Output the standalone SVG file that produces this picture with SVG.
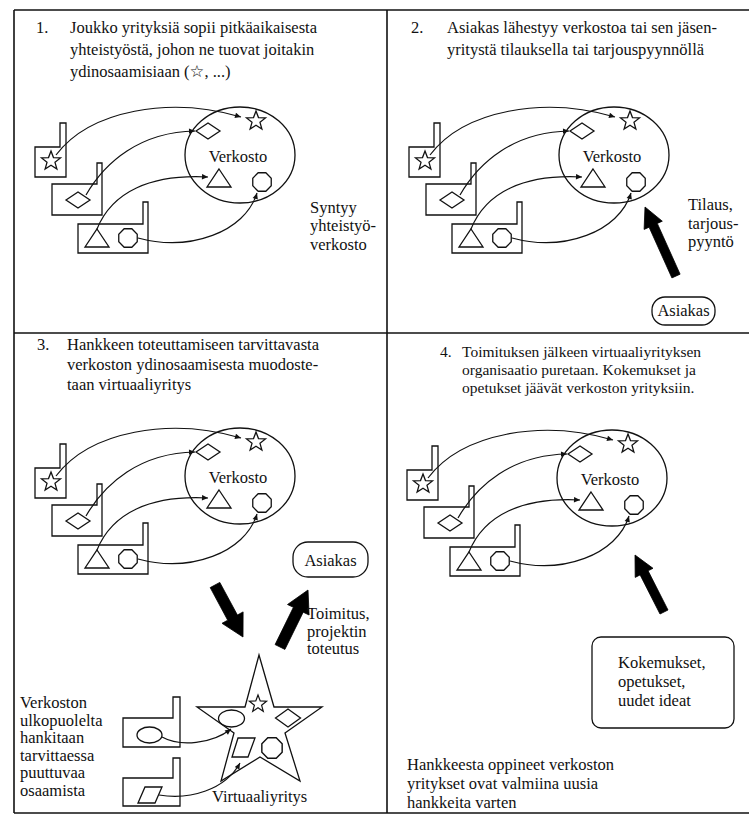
<svg xmlns="http://www.w3.org/2000/svg" xmlns:xlink="http://www.w3.org/1999/xlink" width="749" height="823" viewBox="0 0 749 823">
<style>
.t{font-family:"Liberation Serif","DejaVu Serif",serif;font-size:16.5px;fill:#111}
.h{font-family:"Liberation Serif","DejaVu Sans",serif;font-size:16.5px;fill:#111}
.h4{font-family:"Liberation Serif","DejaVu Serif",serif;font-size:15.5px;fill:#111}
.fr{fill:none;stroke:#111;stroke-width:1.6}
.ln{fill:none;stroke:#111;stroke-width:1.3}
.cv{fill:none;stroke:#111;stroke-width:1.2;marker-end:url(#ah)}
.big{fill:#000;stroke:#000;stroke-width:0.8;stroke-linejoin:round}
</style>
<defs>
<marker id="ah" viewBox="0 0 10 10" refX="10" refY="5" markerWidth="8" markerHeight="6" markerUnits="userSpaceOnUse" orient="auto"><path d="M0,0.5 L10,5 L0,9.5 z" fill="#111"/></marker>
<polygon id="star" class="ln" points="0,-10 2.47,-3.4 9.51,-3.09 3.99,1.3 5.88,8.09 0,4.2 -5.88,8.09 -3.99,1.3 -9.51,-3.09 -2.47,-3.4"/>
<polygon id="oct" class="ln" points="9.24,3.83 3.83,9.24 -3.83,9.24 -9.24,3.83 -9.24,-3.83 -3.83,-9.24 3.83,-9.24 9.24,-3.83"/>
<polygon id="dia" class="ln" points="-12,0 0,-8 12,0 0,8"/>
<polygon id="tri" class="ln" points="0,-9 12,9 -12,9"/>
</defs>

<g id="frame" class="fr">
<line x1="14" y1="10" x2="749" y2="10"/>
<line x1="14" y1="10" x2="14" y2="813"/>
<line x1="14" y1="813" x2="749" y2="813"/>
<line x1="387" y1="10" x2="387" y2="813"/>
<line x1="14" y1="333" x2="749" y2="333"/>
</g>

<!-- Quadrant 1 -->
<g id="q1-heading" class="h">
<text x="36" y="33">1.</text>
<text x="70" y="33">Joukko yrityksiä sopii pitkäaikaisesta</text>
<text x="70" y="55">yhteistyöstä, johon ne tuovat joitakin</text>
<text x="70" y="77">ydinosaamisiaan (☆, ...)</text>
</g>
<g id="q1" transform="translate(0,0)">
<g id="q1-verkosto"><ellipse class="ln" cx="240" cy="155" rx="55" ry="48"/><text class="t" x="238" y="162" text-anchor="middle">Verkosto</text>
<use xlink:href="#star" x="256" y="121"/><use xlink:href="#dia" x="208" y="131"/><use xlink:href="#tri" x="219" y="178"/><use xlink:href="#oct" x="262" y="182"/></g>
<g id="q1-firm1"><path class="ln" d="M35,147 H60 V123 H66 V177 H35 Z"/><use xlink:href="#star" x="51" y="161"/></g>
<g id="q1-firm2"><path class="ln" d="M52,184 H97 V163 H102 V215 H52 Z"/><use xlink:href="#dia" x="78" y="200"/></g>
<g id="q1-firm3"><path class="ln" d="M78,224 H143 V202 H148 V253 H78 Z"/><use xlink:href="#tri" x="97" y="238"/><use xlink:href="#oct" x="128" y="238"/></g>
<g id="q1-connectors">
<path class="cv" d="M56,155 C90,110 170,96 241,117"/>
<path class="cv" d="M86,195 C105,162 140,132 195,131"/>
<path class="cv" d="M97,229 C112,192 150,174 208,177"/>
<path class="cv" d="M138,238 C190,252 245,232 257,193"/>
</g>
</g>
<g id="q1-note" class="t">
<text x="310" y="213">Syntyy</text>
<text x="310" y="231">yhteistyö-</text>
<text x="310" y="250">verkosto</text>
</g>

<!-- Quadrant 2 -->
<g id="q2-heading" class="h">
<text x="411" y="33">2.</text>
<text x="447" y="33">Asiakas lähestyy verkostoa tai sen jäsen-</text>
<text x="447" y="55">yritystä tilauksella tai tarjouspyynnöllä</text>
</g>
<g id="q2" transform="translate(374,0)">
<g id="q2-verkosto"><ellipse class="ln" cx="240" cy="155" rx="55" ry="48"/><text class="t" x="238" y="162" text-anchor="middle">Verkosto</text>
<use xlink:href="#star" x="256" y="121"/><use xlink:href="#dia" x="208" y="131"/><use xlink:href="#tri" x="219" y="178"/><use xlink:href="#oct" x="262" y="182"/></g>
<g id="q2-firm1"><path class="ln" d="M35,147 H60 V123 H66 V177 H35 Z"/><use xlink:href="#star" x="51" y="161"/></g>
<g id="q2-firm2"><path class="ln" d="M52,184 H97 V163 H102 V215 H52 Z"/><use xlink:href="#dia" x="78" y="200"/></g>
<g id="q2-firm3"><path class="ln" d="M78,224 H143 V202 H148 V253 H78 Z"/><use xlink:href="#tri" x="97" y="238"/><use xlink:href="#oct" x="128" y="238"/></g>
<g id="q2-connectors">
<path class="cv" d="M56,155 C90,110 170,96 241,117"/>
<path class="cv" d="M86,195 C105,162 140,132 195,131"/>
<path class="cv" d="M97,229 C112,192 150,174 208,177"/>
<path class="cv" d="M138,238 C190,252 245,232 257,193"/>
</g>
</g>
<g id="q2-asiakas"><rect class="ln" x="652" y="297" width="63" height="28" rx="13"/><text class="t" x="683.5" y="316" text-anchor="middle">Asiakas</text></g>
<g id="q2-order-arrow"><polygon class="big" points="680.1,274.2 657.3,223.4 662.3,221.2 645,207 644.1,229.4 649.1,227.2 671.9,277.9"/></g>
<g id="q2-note" class="t">
<text x="688" y="210">Tilaus,</text>
<text x="688" y="229">tarjous-</text>
<text x="688" y="247">pyyntö</text>
</g>

<!-- Quadrant 3 -->
<g id="q3-heading" class="h">
<text x="37" y="350">3.</text>
<text x="67" y="350">Hankkeen toteuttamiseen tarvittavasta</text>
<text x="67" y="370">verkoston ydinosaamisesta muodoste-</text>
<text x="67" y="390">taan virtuaaliyritys</text>
</g>
<g id="q3" transform="translate(0,321)">
<g id="q3-verkosto"><ellipse class="ln" cx="240" cy="155" rx="55" ry="48"/><text class="t" x="238" y="162" text-anchor="middle">Verkosto</text>
<use xlink:href="#star" x="256" y="121"/><use xlink:href="#dia" x="208" y="131"/><use xlink:href="#tri" x="219" y="178"/><use xlink:href="#oct" x="262" y="182"/></g>
<g id="q3-firm1"><path class="ln" d="M35,147 H60 V123 H66 V177 H35 Z"/><use xlink:href="#star" x="51" y="161"/></g>
<g id="q3-firm2"><path class="ln" d="M52,184 H97 V163 H102 V215 H52 Z"/><use xlink:href="#dia" x="78" y="200"/></g>
<g id="q3-firm3"><path class="ln" d="M78,224 H143 V202 H148 V253 H78 Z"/><use xlink:href="#tri" x="97" y="238"/><use xlink:href="#oct" x="128" y="238"/></g>
<g id="q3-connectors">
<path class="cv" d="M56,155 C90,110 170,96 241,117"/>
<path class="cv" d="M86,195 C105,162 140,132 195,131"/>
<path class="cv" d="M97,229 C112,192 150,174 208,177"/>
<path class="cv" d="M138,238 C190,252 245,232 257,193"/>
</g>
</g>
<g id="q3-asiakas"><rect class="ln" x="293" y="542" width="75" height="35" rx="15"/><text class="t" x="330.5" y="566" text-anchor="middle">Asiakas</text></g>
<g id="q3-arrows">
<polygon class="big" points="210.2,587.6 227.7,620.2 222,623.3 243,637 243.1,611.9 237.4,615 219.8,582.4"/>
<polygon class="big" points="284.9,649.4 303.2,612.2 309.1,615 308,590 287.5,604.5 293.4,607.3 275.1,644.6"/>
</g>
<g id="q3-note" class="t">
<text x="307" y="619">Toimitus,</text>
<text x="307" y="636.5">projektin</text>
<text x="307" y="654">toteutus</text>
</g>
<g id="q3-virtual">
<polygon class="ln" points="259,655 274,707 322,707 285,733 300,781 260,757 221,781 234,733 197,707 245,707"/>
<use xlink:href="#star" transform="translate(258,704) scale(0.9)"/>
<ellipse class="ln" cx="231.5" cy="718.5" rx="13" ry="8.5"/>
<polygon class="ln" points="275.5,718 288,709 300.5,718 288,727"/>
<polygon class="ln" points="238,738 255,738 248,757 232,757"/>
<use xlink:href="#oct" transform="translate(272,748) scale(1.1)"/>
<text class="t" x="212" y="802">Virtuaaliyritys</text>
</g>
<g id="q3-ext1"><path class="ln" d="M123,718 H173 V697 H180 V747 H123 Z"/><ellipse class="ln" cx="149.5" cy="735" rx="12.5" ry="8"/></g>
<g id="q3-ext2"><path class="ln" d="M123,778 H173 V758 H180 V806 H123 Z"/><polygon class="ln" points="138,803 145,787 162,787 155,803"/></g>
<g id="q3-ext-connectors">
<path class="cv" d="M162,737 C180,747 212,744 231,729"/>
<path class="cv" d="M159,795 C190,800 225,790 240,763"/>
</g>
<g id="q3-ext-note" class="t">
<text x="20" y="708">Verkoston</text>
<text x="20" y="725.5">ulkopuolelta</text>
<text x="20" y="743">hankitaan</text>
<text x="20" y="760.5">tarvittaessa</text>
<text x="20" y="778">puuttuvaa</text>
<text x="20" y="795.5">osaamista</text>
</g>

<!-- Quadrant 4 -->
<g id="q4-heading" class="h4">
<text x="440" y="357">4.</text>
<text x="462" y="357">Toimituksen jälkeen virtuaaliyrityksen</text>
<text x="462" y="375">organisaatio puretaan. Kokemukset ja</text>
<text x="462" y="393">opetukset jäävät verkoston yrityksiin.</text>
</g>
<g id="q4" transform="translate(372,323)">
<g id="q4-verkosto"><ellipse class="ln" cx="240" cy="155" rx="55" ry="48"/><text class="t" x="238" y="162" text-anchor="middle">Verkosto</text>
<use xlink:href="#star" x="256" y="121"/><use xlink:href="#dia" x="208" y="131"/><use xlink:href="#tri" x="219" y="178"/><use xlink:href="#oct" x="262" y="182"/></g>
<g id="q4-firm1"><path class="ln" d="M35,147 H60 V123 H66 V177 H35 Z"/><use xlink:href="#star" x="51" y="161"/></g>
<g id="q4-firm2"><path class="ln" d="M52,184 H97 V163 H102 V215 H52 Z"/><use xlink:href="#dia" x="78" y="200"/></g>
<g id="q4-firm3"><path class="ln" d="M78,224 H143 V202 H148 V253 H78 Z"/><use xlink:href="#tri" x="97" y="238"/><use xlink:href="#oct" x="128" y="238"/></g>
<g id="q4-connectors">
<path class="cv" d="M56,155 C90,110 170,96 241,117"/>
<path class="cv" d="M86,195 C105,162 140,132 195,131"/>
<path class="cv" d="M97,229 C112,192 150,174 208,177"/>
<path class="cv" d="M138,238 C190,252 245,232 257,193"/>
</g>
</g>
<g id="q4-arrow"><polygon class="big" points="668,610 648.1,570.8 653,568.3 635,555 635.2,577.4 640.1,574.9 660,614"/></g>
<g id="q4-lessons"><rect class="ln" x="592" y="637" width="142" height="91" rx="9"/>
<text class="t" x="618" y="668">Kokemukset,</text>
<text class="t" x="618" y="687">opetukset,</text>
<text class="t" x="618" y="706">uudet ideat</text>
</g>
<g id="q4-note" class="t">
<text x="407" y="770">Hankkeesta oppineet verkoston</text>
<text x="407" y="789">yritykset ovat valmiina uusia</text>
<text x="407" y="808">hankkeita varten</text>
</g>
</svg>
